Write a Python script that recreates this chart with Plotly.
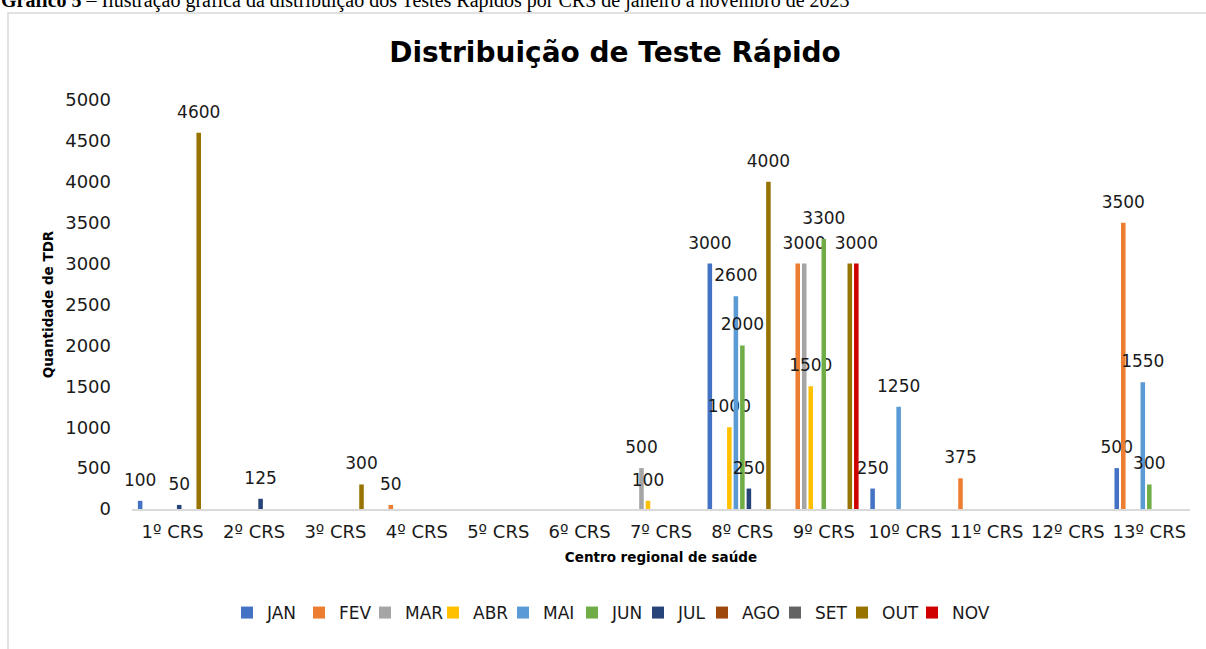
import plotly.graph_objects as go

categories = ["1º CRS", "2º CRS", "3º CRS", "4º CRS", "5º CRS", "6º CRS", "7º CRS",
              "8º CRS", "9º CRS", "10º CRS", "11º CRS", "12º CRS", "13º CRS"]
months = ["JAN", "FEV", "MAR", "ABR", "MAI", "JUN", "JUL", "AGO", "SET", "OUT", "NOV"]

JAN = [100, 0, 0, 0, 0, 0, 0, 3000, 0, 250, 0, 0, 500]
FEV = [0, 0, 0, 50, 0, 0, 0, 0, 3000, 0, 375, 0, 3500]
MAR = [0, 0, 0, 0, 0, 0, 500, 0, 3000, 0, 0, 0, 0]
ABR = [0, 0, 0, 0, 0, 0, 100, 1000, 1500, 0, 0, 0, 0]
MAI = [0, 0, 0, 0, 0, 0, 0, 2600, 0, 1250, 0, 0, 1550]
JUN = [0, 0, 0, 0, 0, 0, 0, 2000, 3300, 0, 0, 0, 300]
JUL = [50, 125, 0, 0, 0, 0, 0, 250, 0, 0, 0, 0, 0]
AGO = [0] * 13
SET = [0] * 13
OUT = [4600, 0, 300, 0, 0, 0, 0, 4000, 3000, 0, 0, 0, 0]
NOV = [0, 0, 0, 0, 0, 0, 0, 0, 3000, 0, 0, 0, 0]

series = [JAN, FEV, MAR, ABR, MAI, JUN, JUL, AGO, SET, OUT, NOV]
colors = ["#4472C4", "#ED7D31", "#A5A5A5", "#FFC000", "#5B9BD5", "#70AD47",
          "#264478", "#9E480E", "#636363", "#997300", "#D00000"]

# labels that sit exactly on top of a neighbouring identical label are shown once
hidden_labels = {("FEV", "9º CRS"), ("OUT", "9º CRS")}

# horizontal pixel position of each legend key (layout only)
legend_key_px = [247, 319, 385, 453, 523, 592, 658, 722, 795, 862, 932]

FONT = "DejaVu Sans"
PLOT_L, PLOT_W, PLOT_T, PLOT_H = 132, 1058, 100, 409


def label(v):
    # value in 17px, followed by a small spacer line that lifts it above the bar
    return f"<span style='font-size:17px'>{v}</span><br>&nbsp;"


fig = go.Figure()
legend_layout = {}
for i, (name, vals, col) in enumerate(zip(months, series, colors)):
    lg = "legend" if i == 0 else f"legend{i + 1}"
    labels = [label(v) if v > 0 and (name, c) not in hidden_labels else ""
              for v, c in zip(vals, categories)]
    fig.add_trace(go.Bar(
        name=name, x=categories, y=vals, marker_color=col, marker_line_width=0,
        text=labels, textposition="outside", constraintext="none", cliponaxis=False,
        textfont=dict(family=FONT, size=10, color="#1a1a1a"), legend=lg,
    ))
    legend_layout[lg] = dict(
        orientation="h", xanchor="left", yanchor="middle",
        x=(legend_key_px[i] - 20 - PLOT_L) / PLOT_W,
        y=(PLOT_T + PLOT_H - 613) / PLOT_H,
        font=dict(family=FONT, size=17, color="#1a1a1a"), itemwidth=30,
        bgcolor="rgba(0,0,0,0)",
    )

fig.update_layout(
    width=1206, height=649,
    margin=dict(l=132, r=16, t=100, b=140, autoexpand=False),
    paper_bgcolor="white", plot_bgcolor="white",
    barmode="group", bargap=0.12, bargroupgap=0.3,
    title=dict(text="<b>Distribuição de Teste Rápido</b>", x=615 / 1206, xanchor="center",
               y=1 - 52 / 649, yanchor="middle", yref="container",
               font=dict(family=FONT, size=28, color="#000000")),
    xaxis=dict(showgrid=False, showline=True, linecolor="#d9d9d9", linewidth=1.5,
               ticks="", ticklabelstandoff=6,
               tickfont=dict(family=FONT, size=18, color="#1a1a1a"),
               title=dict(text="<b>Centro regional de saúde</b>", standoff=11,
                          font=dict(family=FONT, size=13.5, color="#000000"))),
    yaxis=dict(range=[0, 5000], dtick=500, showgrid=False, zeroline=False, showline=False,
               ticks="", ticklabelstandoff=20,
               tickfont=dict(family=FONT, size=18, color="#1a1a1a"),
               title=dict(text="<b>Quantidade de TDR</b>", standoff=8,
                          font=dict(family=FONT, size=13.5, color="#000000"))),
    showlegend=True,
    **legend_layout,
)

fig.add_shape(type="rect", xref="paper", yref="paper",
              x0=(8 - PLOT_L) / PLOT_W, x1=(1212 - PLOT_L) / PLOT_W,
              y0=(PLOT_T + PLOT_H - 655) / PLOT_H, y1=(PLOT_T + PLOT_H - 13) / PLOT_H,
              line=dict(color="#d9d9d9", width=1.5), fillcolor="rgba(0,0,0,0)", layer="below")

fig.add_annotation(
    text="<b>Gráfico 5</b> – Ilustração gráfica da distribuição dos Testes Rápidos por CRS de janeiro a novembro de 2023",
    xref="paper", yref="paper", x=(-1 - PLOT_L) / PLOT_W, y=(PLOT_T + PLOT_H - 14) / PLOT_H,
    xanchor="left", yanchor="bottom", showarrow=False,
    font=dict(family="Liberation Serif", size=20, color="#000000"))

fig.write_html("out.html", config={"displayModeBar": False},
               post_script="document.body.style.margin='0';")
